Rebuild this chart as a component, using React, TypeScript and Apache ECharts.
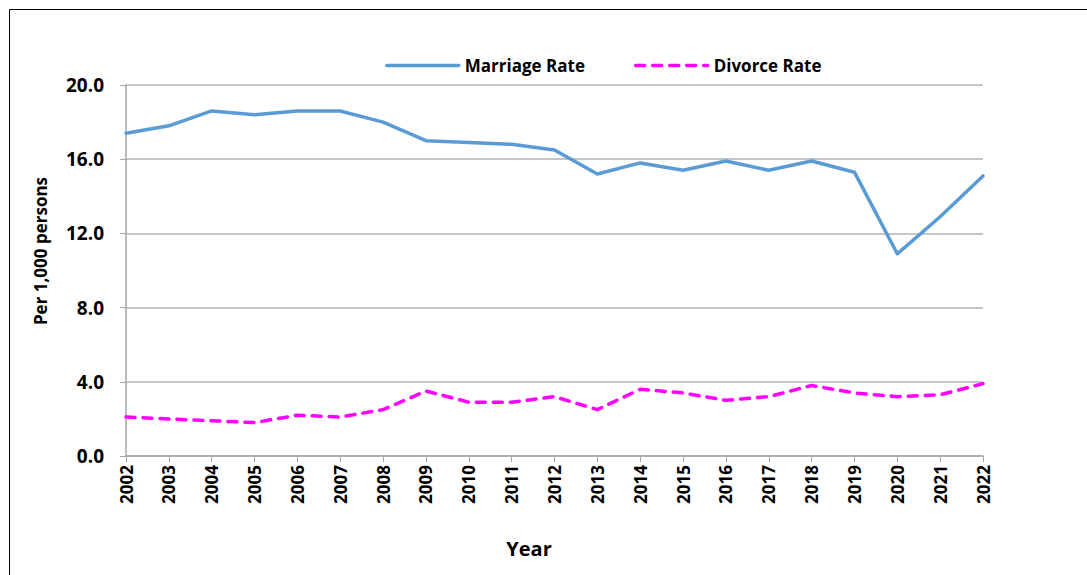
import React, { useEffect, useRef } from "react";
import * as echarts from "echarts";

const years = ["2002","2003","2004","2005","2006","2007","2008","2009","2010","2011","2012","2013","2014","2015","2016","2017","2018","2019","2020","2021","2022"];
const marriageRate = [17.4,17.8,18.6,18.4,18.6,18.6,18.0,17.0,16.9,16.8,16.5,15.2,15.8,15.4,15.9,15.4,15.9,15.3,10.9,12.9,15.1];
const divorceRate = [2.1,2.0,1.9,1.8,2.2,2.1,2.5,3.5,2.9,2.9,3.2,2.5,3.6,3.4,3.0,3.2,3.8,3.4,3.2,3.3,3.9];

const FONT = "'Open Sans', 'Noto Sans', sans-serif";

export default function App() {
  const ref = useRef<HTMLDivElement>(null);
  useEffect(() => {
    const chart = echarts.init(ref.current!, null, { renderer: "svg" });
    chart.setOption({
      animation: false,
      backgroundColor: "#ffffff",
      graphic: [
        { type: "rect", shape: { x: 9.5, y: 9.5, width: 1100, height: 600 }, style: { fill: "none", stroke: "#000", lineWidth: 1 }, silent: true },
        { type: "text", x: 40, y: 251, rotation: Math.PI / 2, style: { text: "Per 1,000 persons", fontFamily: FONT, fontWeight: "bold", fontSize: 17, fill: "#000", align: "center", verticalAlign: "middle" }, silent: true },
        { type: "text", x: 529, y: 548, style: { text: "Year", fontFamily: FONT, fontWeight: "bold", fontSize: 20, fill: "#000", align: "center", verticalAlign: "middle" }, silent: true },
      ],
      legend: {
        top: 57,
        left: 385,
        padding: 0,
        itemWidth: 72,
        itemHeight: 12,
        itemGap: 49,
        itemStyle: { opacity: 0 },
        lineStyle: { width: 3.5 },
        textStyle: { fontFamily: FONT, fontWeight: "bold", fontSize: 17, color: "#000", padding: [0, 0, 0, 1] },
        data: ["Marriage Rate", "Divorce Rate"],
      },
      grid: { left: 126, right: 104, top: 85, bottom: 119, containLabel: false },
      xAxis: {
        type: "category",
        data: years,
        boundaryGap: false,
        axisLine: { lineStyle: { color: "#a6a6a6", width: 1.5 } },
        axisTick: { show: true, alignWithLabel: true, length: 6, lineStyle: { color: "#a6a6a6" } },
        axisLabel: { rotate: 90, margin: 9, fontFamily: FONT, fontWeight: "bold", fontSize: 17, color: "#000" },
      },
      yAxis: {
        type: "value",
        min: 0,
        max: 20,
        interval: 4,
        axisLine: { show: true, lineStyle: { color: "#a6a6a6", width: 1.5 } },
        axisTick: { show: true, length: 6, inside: false, lineStyle: { color: "#a6a6a6" } },
        axisLabel: { margin: 22, fontFamily: FONT, fontWeight: "bold", fontSize: 19, color: "#000", formatter: (v: number) => v.toFixed(1) },
        splitLine: { lineStyle: { color: "#b3b3b3", width: 1.5 } },
      },
      series: [
        {
          name: "Marriage Rate",
          type: "line",
          data: marriageRate,
          symbol: "none",
          lineStyle: { color: "#5b9bd5", width: 3.5, cap: "round", join: "round" },
          itemStyle: { color: "#5b9bd5" },
        },
        {
          name: "Divorce Rate",
          type: "line",
          data: divorceRate,
          symbol: "none",
          lineStyle: { color: "#ff00ff", width: 3.5, type: [9, 8], cap: "round", join: "round" },
          itemStyle: { color: "#ff00ff" },
        },
      ],
    });
    return () => chart.dispose();
  }, []);
  return <div ref={ref} style={{ width: 1087, height: 575, position: "absolute", left: 0, top: 0 }} />;
}
